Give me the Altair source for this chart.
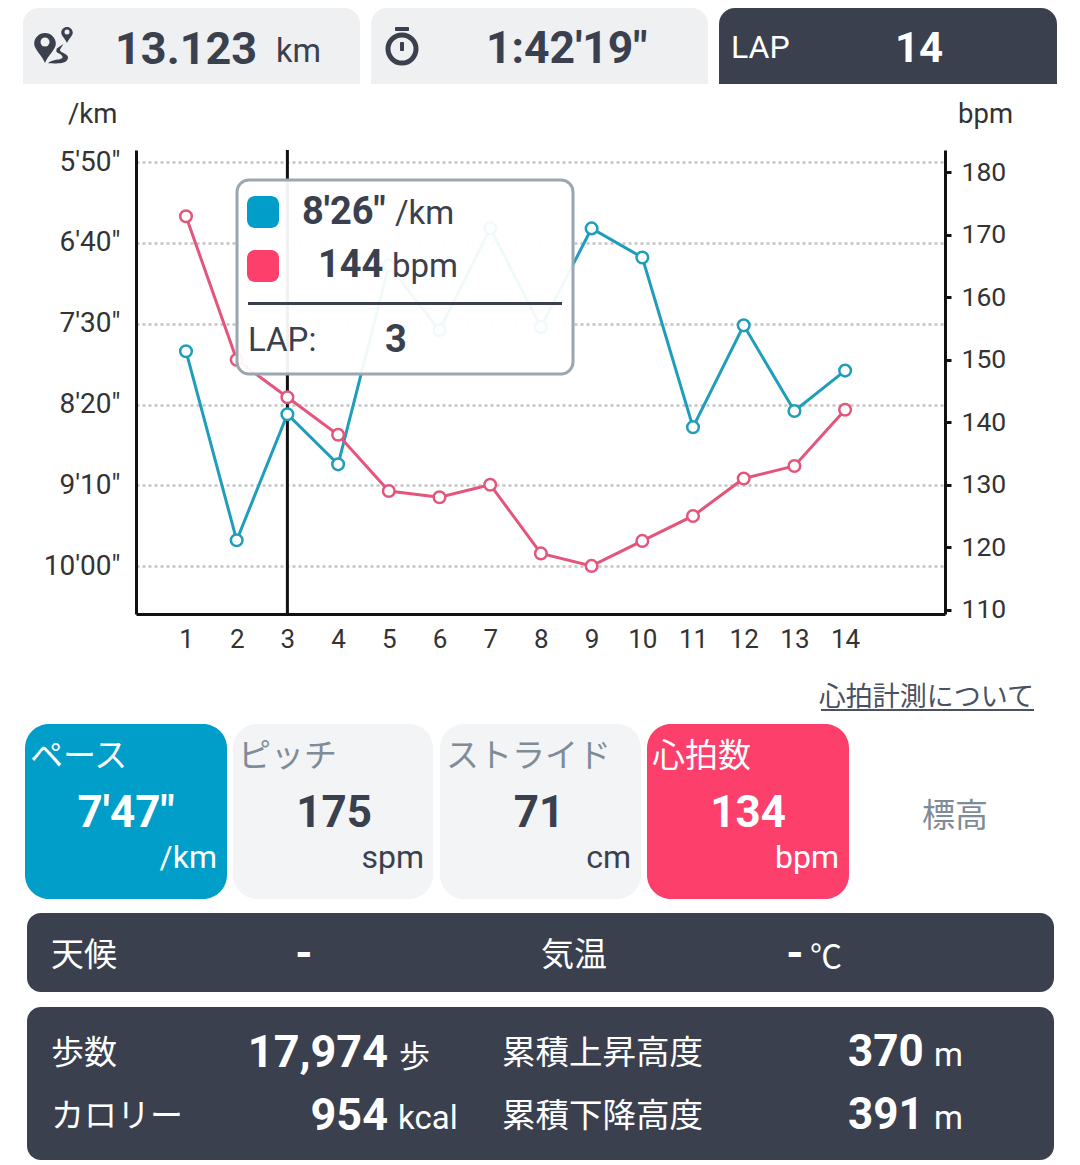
import altair as alt
import pandas as pd

# Values
laps = list(range(1, 15))
pace_sec = [467, 584, 506, 537, 414, 454, 391, 452, 391, 409, 514, 451, 504, 479]
heart_bpm = [173, 150, 144, 138, 129, 128, 130, 119, 117, 121, 125, 131, 133, 142]
pace_ticks = [350, 400, 450, 500, 550, 600]
bpm_ticks = [110, 120, 130, 140, 150, 160, 170, 180]
cursor_lap = [3]

# Colours
DARK = "#3a404e"
LIGHT = "#eff0f2"
CARD = "#f2f4f6"
GREY = "#7f8c98"
BLUE = "#009ec9"
RED = "#fc3f6b"
BLUE_LINE = "#1f9dbd"
RED_LINE = "#e4557b"
LATIN = "Roboto"
CJK = "Noto Sans CJK JP"
W, H = 1064, 1153
OFF = 8  # page margin, layout numbers below are screenshot pixels


def box(x0, y0, x1, y1, fill, radius=0, top_only=False, **kw):
    if top_only:
        kw.update(cornerRadiusTopLeft=radius, cornerRadiusTopRight=radius)
    else:
        kw.update(cornerRadius=radius)
    return alt.Chart(pd.DataFrame({"a": [0]})).mark_rect(fill=fill, **kw).encode(
        x=alt.value(x0 - OFF), x2=alt.value(x1 - OFF),
        y=alt.value(y0 - OFF), y2=alt.value(y1 - OFF))


def label(x, y, text, size=32, color=DARK, bold=False, align="left", font=LATIN):
    return alt.Chart(pd.DataFrame({"a": [0]})).mark_text(
        font=font, fontSize=size, fontWeight="bold" if bold else "normal",
        color=color, align=align, baseline="middle"
    ).encode(x=alt.value(x - OFF), y=alt.value(y - OFF + 2), text=alt.value(text))


def icon(x, y, shape, px, color=DARK, filled=True, stroke_width=0):
    return alt.Chart(pd.DataFrame({"a": [0]})).mark_point(
        shape=shape, size=px * px, filled=filled, opacity=1,
        color=color, strokeWidth=stroke_width
    ).encode(x=alt.value(x - OFF), y=alt.value(y - OFF))


# custom symbol paths span -1..1
PIN = ("M0,1 C-0.2,0.5 -0.72,0.1 -0.72,-0.28 A0.72,0.72 0 1 1 0.72,-0.28 "
       "C0.72,0.1 0.2,0.5 0,1 Z")
ROAD = ("M-1,0.84 C-0.6,0.4 0.5,0.6 0.3,0.2 C0.1,-0.16 -0.4,0 -0.2,-0.5 "
        "L0.4,-0.9 L0.1,-0.4 C0,-0.1 1,0 0.8,0.44 C0.6,1 -0.4,0.84 -1,0.84 Z")

panels = [
    # header
    box(23, 8, 360, 84, LIGHT, 16, True),
    box(371, 8, 708, 84, LIGHT, 16, True),
    box(719, 8, 1057, 84, DARK, 16, True),
    icon(45, 48, PIN, 30),
    icon(45, 42, "circle", 9, LIGHT),
    icon(67, 35, PIN, 16),
    icon(67, 32, "circle", 5, LIGHT),
    icon(59, 54, ROAD, 22),
    icon(402, 49, "circle", 28, DARK, False, 5),
    box(395, 27, 409, 31, DARK, 1),
    box(400, 42, 404, 51, DARK, 1),
    label(115, 48, "13.123", 45, bold=True),
    label(276, 50, "km", 32.5),
    label(486, 48, "1:42'19\"", 44.5, bold=True),
    label(731, 46, "LAP", 32, "#ffffff"),
    label(919, 47, "14", 42, "#ffffff", True, "center"),
    label(68, 113, "/km", 27.5, "#333333"),
    label(958, 113, "bpm", 27.5, "#333333"),
    # link
    label(1034, 696, "心拍計測について", 27, "#4a5160", align="right", font=CJK),
    box(821, 709, 1034, 711, "#4a5160"),
    # metric cards
    box(25, 724, 227, 899, BLUE, 24),
    box(233, 724, 433, 899, CARD, 24),
    box(440, 724, 641, 899, CARD, 24),
    box(647, 724, 849, 899, RED, 24),
    label(30, 755, "ペース", 33, "#ffffff", font=CJK),
    label(238, 755, "ピッチ", 33, GREY, font=CJK),
    label(446, 755, "ストライド", 33, GREY, font=CJK),
    label(652, 755, "心拍数", 33, "#ffffff", font=CJK),
    label(126, 812, "7'47\"", 44, "#ffffff", True, "center"),
    label(334, 812, "175", 44, bold=True, align="center"),
    label(539, 812, "71", 44, bold=True, align="center"),
    label(748, 812, "134", 44, "#ffffff", True, "center"),
    label(217, 856, "/km", 32, "#ffffff", align="right"),
    label(424, 856, "spm", 32, align="right"),
    label(631, 856, "cm", 32, align="right"),
    label(839, 856, "bpm", 32, "#ffffff", align="right"),
    label(955, 815, "標高", 33, GREY, align="center", font=CJK),
    # weather bar
    box(27, 913, 1054, 992, DARK, 14),
    label(51, 954, "天候", 33, "#ffffff", font=CJK),
    label(304, 953, "-", 44, "#ffffff", True, "center"),
    label(541, 954, "気温", 33, "#ffffff", font=CJK),
    label(795, 953, "-", 44, "#ffffff", True, "center"),
    label(826, 956, "℃", 32, "#ffffff", align="center", font=CJK),
    # totals bar
    box(27, 1007, 1054, 1160, DARK, 14),
    label(51, 1052, "歩数", 33, "#ffffff", font=CJK),
    label(388, 1051, "17,974", 45, "#ffffff", True, "right"),
    label(399, 1056, "歩", 31, "#ffffff", font=CJK),
    label(502, 1052, "累積上昇高度", 33.5, "#ffffff", font=CJK),
    label(848, 1051, "370", 44, "#ffffff", True),
    label(934, 1054, "m", 33, "#ffffff"),
    label(51, 1115, "カロリー", 33, "#ffffff", font=CJK),
    label(388, 1114, "954", 45, "#ffffff", True, "right"),
    label(398, 1117, "kcal", 33, "#ffffff"),
    label(502, 1115, "累積下降高度", 33.5, "#ffffff", font=CJK),
    label(848, 1114, "391", 44, "#ffffff", True),
    label(934, 1117, "m", 33, "#ffffff"),
]

# chart part
df = pd.DataFrame({"lap": laps, "pace": pace_sec, "bpm": heart_bpm})
x_scale = alt.Scale(domain=[0.014, 15.97], range=[136 - OFF, 945 - OFF], nice=False, zero=False)
pace_scale = alt.Scale(domain=[342.5, 629.6], range=[150 - OFF, 614 - OFF], nice=False, zero=False)
bpm_scale = alt.Scale(domain=[183.6, 109.3], range=[150 - OFF, 614 - OFF], nice=False, zero=False)

x_enc = alt.X("lap:Q", scale=x_scale, title=None, axis=alt.Axis(
    orient="bottom", offset=-(H - (614 - OFF)), values=laps, grid=False, ticks=False,
    labelFont=LATIN, labelFontSize=26, labelColor="#333333", labelPadding=12,
    domainColor="#111111", domainWidth=3, labelFlush=False, labelOverlap=False))

pace_axis = alt.Axis(
    orient="left", offset=-(136 - OFF), values=pace_ticks, ticks=False, title=None,
    labelExpr="floor(datum.value / 60) + \"'\" + format(datum.value % 60, '02d') + '\"'",
    labelFont=LATIN, labelFontSize=28, labelColor="#333333", labelPadding=16,
    domainColor="#111111", domainWidth=3, labelOverlap=False, labelFlush=False,
    grid=True, gridColor="#c4c4c4", gridWidth=2.5, gridDash=[3, 3])

bpm_axis = alt.Axis(
    orient="right", offset=-(W - (945 - OFF)), values=bpm_ticks, title=None, grid=False,
    tickSize=6, tickWidth=3, tickColor="#111111",
    labelFont=LATIN, labelFontSize=26.5, labelColor="#333333", labelPadding=10,
    domainColor="#111111", domainWidth=3, labelOverlap=False, labelFlush=False)

base = alt.Chart(df)
pace_layer = alt.layer(
    base.mark_line(color=BLUE_LINE, strokeWidth=3).encode(
        x=x_enc, y=alt.Y("pace:Q", scale=pace_scale, axis=pace_axis)),
    base.mark_point(filled=True, fill="#ffffff", stroke=BLUE_LINE, strokeWidth=2.5, size=135, opacity=1).encode(
        x=x_enc, y=alt.Y("pace:Q", scale=pace_scale, axis=pace_axis)),
)
bpm_layer = alt.layer(
    base.mark_line(color=RED_LINE, strokeWidth=3).encode(
        x=x_enc, y=alt.Y("bpm:Q", scale=bpm_scale, axis=bpm_axis)),
    base.mark_point(filled=True, fill="#ffffff", stroke=RED_LINE, strokeWidth=2.5, size=135, opacity=1).encode(
        x=x_enc, y=alt.Y("bpm:Q", scale=bpm_scale, axis=bpm_axis)),
)
cursor = alt.Chart(pd.DataFrame({"lap": cursor_lap})).mark_rule(color="#111111", strokeWidth=3).encode(
    x=x_enc, y=alt.value(150 - OFF), y2=alt.value(614 - OFF))

# popup over the plot
popup = [
    box(237, 180, 573, 374, "#ffffff", 12, fillOpacity=0.94, stroke="#9aa7b1", strokeWidth=3),
    box(247, 196, 279, 228, BLUE, 8),
    box(247, 250, 279, 282, RED, 8),
    label(302, 211, "8'26\"", 38, bold=True),
    label(395, 212, "/km", 33),
    label(318, 264, "144", 38, bold=True),
    label(392, 265, "bpm", 33),
    box(248, 302, 562, 305, DARK),
    label(248, 339, "LAP:", 33),
    label(396, 339, "3", 38, bold=True, align="center"),
]

chart = alt.layer(
    *panels, cursor, pace_layer, bpm_layer, *popup
).resolve_scale(y="independent").properties(
    width=W, height=H, padding=0,
    autosize=alt.AutoSizeParams(type="none"), background="#ffffff"
).configure_view(stroke=None)

chart.save("out.html", embed_options={"renderer": "svg", "actions": False})
